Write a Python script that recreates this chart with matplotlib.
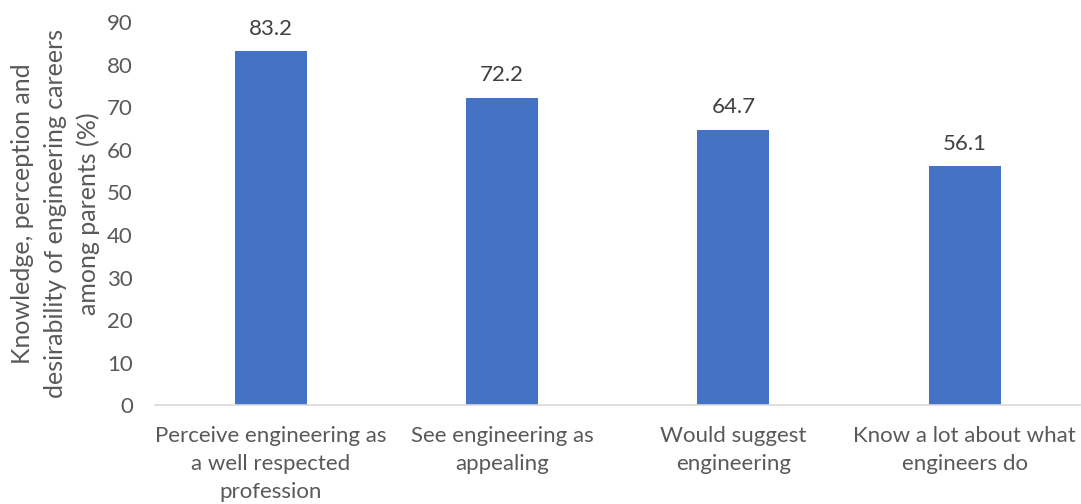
import matplotlib
matplotlib.use("Agg")
import matplotlib.pyplot as plt

categories = ["Perceive engineering as\na well respected\nprofession",
              "See engineering as\nappealing",
              "Would suggest\nengineering",
              "Know a lot about what\nengineers do"]
values = [83.2, 72.2, 64.7, 56.1]
yticks = [0, 10, 20, 30, 40, 50, 60, 70, 80, 90]
ylabel = "Knowledge, perception and\ndesirability of engineering careers\namong parents (%)"

plt.rcParams['font.family'] = ['Lato', 'DejaVu Sans']
txt = "#595959"
fs = 16

fig = plt.figure(figsize=(10.81, 5.04), dpi=100)
ax = fig.add_axes([0.1434, 0.196, 0.856, 0.760])
x = list(range(len(categories)))
bars = ax.bar(x, values, width=0.31, color="#4472C4", zorder=2)
for xi, v in zip(x, values):
    ax.annotate(f"{v:.1f}", (xi, v), xytext=(0, 9), textcoords="offset points",
                ha="center", va="bottom", fontsize=fs, color="#404040")
ax.set_xlim(-0.5, len(categories) - 0.5)
ax.set_ylim(0, 90)
ax.set_yticks(yticks)
ax.set_yticklabels([str(t) for t in yticks], fontsize=fs, color=txt)
ax.set_xticks(x)
ax.set_xticklabels(categories, fontsize=fs, color=txt, linespacing=1.5)
ax.tick_params(axis='both', length=0)
ax.tick_params(axis='y', pad=16)
ax.tick_params(axis='x', pad=15)
for s in ['top', 'right', 'left']:
    ax.spines[s].set_visible(False)
ax.spines['bottom'].set_color("#D9D9D9")
ax.spines['bottom'].set_linewidth(1.2)
ax.set_ylabel(ylabel, fontsize=18, color=txt, linespacing=1.5, labelpad=5)
fig.savefig("out.png", dpi=100)
